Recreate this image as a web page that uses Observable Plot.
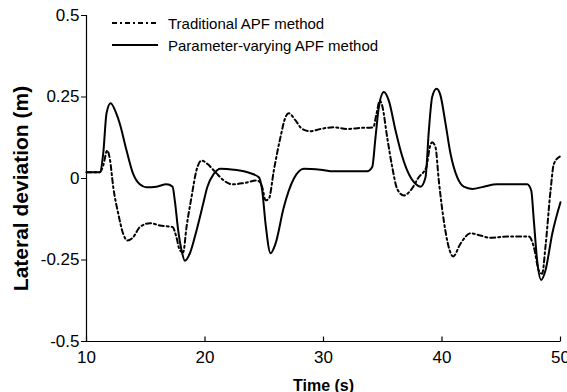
<!DOCTYPE html>
<html><head><meta charset="utf-8">
<script src="https://cdn.jsdelivr.net/npm/d3@7"></script>
<script src="https://cdn.jsdelivr.net/npm/@observablehq/plot@0.6"></script>
<style>
html,body{margin:0;padding:0;background:#fff;overflow:hidden;}
#wrap{position:relative;width:567px;height:392px;font-family:'Liberation Sans',Arial,sans-serif;}
#wrap svg.plot{display:block;}
g[aria-label="x-axis label"]{font-weight:bold;font-size:16px;}
g[aria-label="y-axis label"]{font-weight:bold;font-size:21px;}
#legend{position:absolute;left:112px;top:12px;font-size:15px;color:#000;}
#legend .row{display:flex;align-items:center;height:22px;}
#legend svg{margin-right:10px;}
</style></head>
<body><div id="wrap"></div>
<script>
// Traditional APF method (dashed)
const timeTrad = [10.0, 11.12, 11.41, 11.75, 11.97, 12.26, 12.68, 13.1, 13.44, 13.94, 14.5, 15.35, 16.19, 17.26, 17.59, 17.87, 18.16, 18.44, 18.86, 19.28, 19.71, 20.19, 20.89, 21.59, 22.3, 23.28, 24.41, 24.83, 25.11, 25.39, 25.81, 26.37, 26.79, 27.07, 27.64, 28.2, 28.9, 29.75, 30.87, 32.0, 33.1, 34.2, 34.47, 34.75, 34.95, 35.37, 35.8, 36.22, 36.78, 37.34, 38.04, 38.68, 38.97, 39.17, 39.45, 39.73, 40.15, 40.57, 40.94, 41.56, 42.41, 43.25, 44.09, 45.5, 47.33, 47.75, 48.17, 48.45, 48.73, 49.16, 49.44, 49.94];
const devTrad = [0.019, 0.019, 0.04, 0.086, 0.06, -0.027, -0.108, -0.17, -0.19, -0.18, -0.149, -0.137, -0.144, -0.149, -0.18, -0.22, -0.226, -0.149, -0.057, 0.025, 0.055, 0.045, 0.019, -0.006, -0.018, -0.014, -0.006, -0.027, -0.067, -0.062, 0.025, 0.127, 0.188, 0.2, 0.178, 0.152, 0.145, 0.152, 0.157, 0.152, 0.155, 0.157, 0.198, 0.239, 0.224, 0.127, 0.035, -0.032, -0.052, -0.037, 0.004, 0.035, 0.096, 0.111, 0.096, -0.006, -0.129, -0.211, -0.239, -0.2, -0.168, -0.175, -0.182, -0.178, -0.178, -0.21, -0.282, -0.292, -0.21, -0.037, 0.045, 0.067];
// Parameter-varying APF method (solid)
const timePV = [10.0, 11.12, 11.41, 11.69, 12.03, 12.53, 12.81, 13.38, 13.94, 14.5, 15.06, 15.91, 16.75, 17.26, 17.45, 17.74, 18.02, 18.3, 18.72, 19.28, 19.85, 20.19, 20.74, 21.31, 22.43, 23.84, 24.54, 24.83, 25.11, 25.53, 25.95, 26.65, 27.49, 28.34, 29.75, 30.87, 33.69, 34.11, 34.39, 34.67, 35.09, 35.51, 36.08, 36.5, 37.06, 37.76, 38.19, 38.61, 38.89, 39.17, 39.54, 39.87, 40.3, 40.72, 41.28, 41.84, 42.55, 43.53, 44.66, 47.19, 47.53, 47.75, 48.03, 48.37, 48.73, 49.3, 50.0];
const devPV = [0.019, 0.019, 0.076, 0.2, 0.231, 0.198, 0.168, 0.086, 0.014, -0.018, -0.027, -0.025, -0.018, -0.025, -0.067, -0.16, -0.22, -0.252, -0.23, -0.16, -0.077, -0.027, 0.014, 0.03, 0.027, 0.016, 0.004, -0.037, -0.139, -0.229, -0.2, -0.088, -0.001, 0.03, 0.027, 0.022, 0.022, 0.035, 0.127, 0.219, 0.265, 0.239, 0.147, 0.086, 0.025, -0.016, -0.025, 0.004, 0.147, 0.25, 0.275, 0.255, 0.168, 0.076, 0.004, -0.025, -0.032, -0.025, -0.018, -0.018, -0.037, -0.129, -0.252, -0.311, -0.282, -0.17, -0.073];

const seriesNames = ["Traditional APF method", "Parameter-varying APF method"];
const xTicks = [10, 20, 30, 40, 50];
const yTicks = [-0.5, -0.25, 0, 0.25, 0.5];
const xTitle = "Time (s)";
const yTitle = "Lateral deviation (m)";

const trad = timeTrad.map((t, i) => ({t, v: devTrad[i]}));
const pv = timePV.map((t, i) => ({t, v: devPV[i]}));
const dashStyle = "5,3,2,3";

// inward (upward) tick symbol for the x axis
const tickUp = {draw(context) { context.moveTo(0, 0); context.lineTo(0, -5); }};

const chart = Plot.plot({
  width: 567, height: 392,
  marginLeft: 86, marginRight: 7, marginTop: 15, marginBottom: 51,
  style: {fontFamily: "'Liberation Sans', Arial, sans-serif", fontSize: "17px", color: "#000", background: "#fff"},
  x: {domain: [xTicks[0], xTicks[xTicks.length - 1]]},
  y: {domain: [yTicks[0], yTicks[yTicks.length - 1]]},
  marks: [
    Plot.line(trad, {x: "t", y: "v", stroke: "#000", strokeWidth: 2, strokeDasharray: dashStyle, curve: "monotone-x"}),
    Plot.line(pv, {x: "t", y: "v", stroke: "#000", strokeWidth: 2, curve: "monotone-x"}),
    Plot.ruleX([xTicks[0]], {stroke: "#000", strokeWidth: 1.2}),
    Plot.ruleY([yTicks[0]], {stroke: "#000", strokeWidth: 1.2}),
    Plot.axisY(yTicks, {tickSize: 5, tickPadding: 2, tickFormat: d => String(d), label: yTitle, labelAnchor: "center", labelOffset: 73, labelArrow: "none"}),
    Plot.axisX(xTicks, {tickSize: 0, tickPadding: 9, tickFormat: d => String(d), label: xTitle, labelAnchor: "center", labelOffset: 49, labelArrow: "none"}),
    Plot.dot(xTicks, {x: d => d, y: yTicks[0], r: 3, symbol: tickUp, stroke: "#000", strokeWidth: 1.2, fill: "none"})
  ]
});

// nudge the y-axis title slightly lower, as in the reference
const yLabel = chart.querySelector('g[aria-label="y-axis label"]');
if (yLabel) yLabel.setAttribute("transform", ((yLabel.getAttribute("transform") || "") + " translate(0,10)").trim());

const wrap = document.getElementById("wrap");
wrap.appendChild(chart);

const legend = document.createElement("div");
legend.id = "legend";
seriesNames.forEach((name, i) => {
  const row = document.createElement("div");
  row.className = "row";
  const dash = i === 0 ? `stroke-dasharray="${dashStyle}"` : "";
  row.innerHTML = `<svg width="46" height="4"><line x1="0" x2="46" y1="2" y2="2" stroke="#000" stroke-width="2" ${dash}/></svg><span>${name}</span>`;
  legend.appendChild(row);
});
wrap.appendChild(legend);
</script>
</body></html>
